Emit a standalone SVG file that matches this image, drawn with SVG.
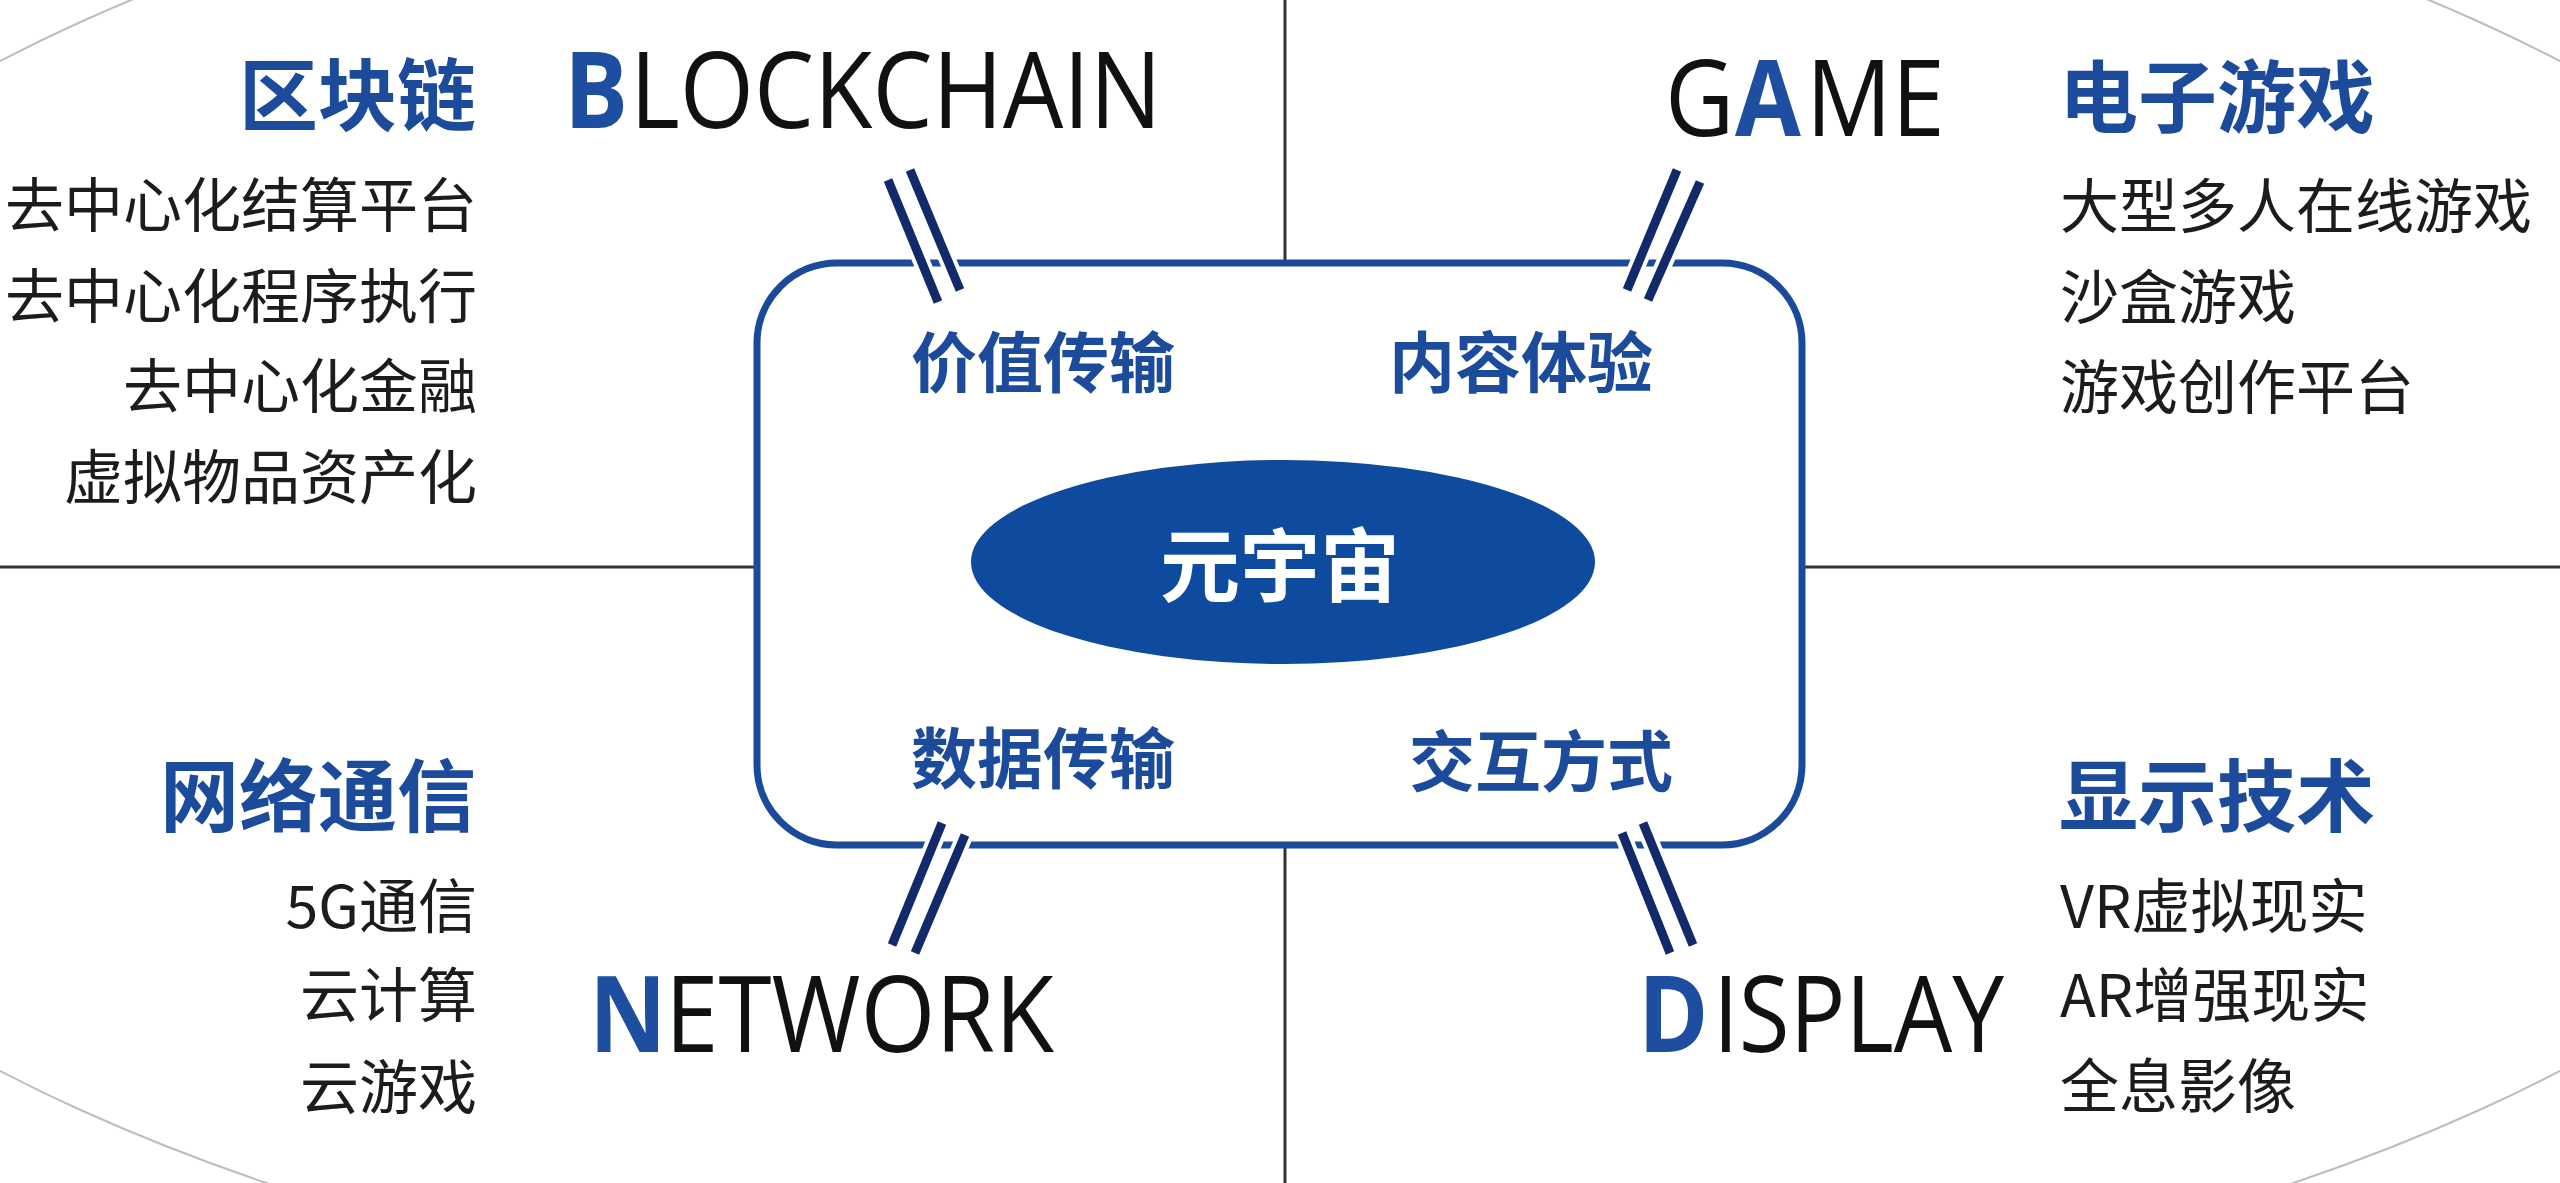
<svg xmlns="http://www.w3.org/2000/svg" width="2560" height="1183" viewBox="0 0 2560 1183">
<style>
.cn{font-family:"Noto Sans CJK SC","Noto Sans",sans-serif;}
.en{font-family:"Open Sans","Noto Sans",sans-serif;font-size:106px;fill:#111;}
.b1{font-family:"Open Sans","Noto Sans",sans-serif;font-size:106px;fill:#1d4ea0;font-weight:bold;}
.head{font-size:79px;font-weight:bold;fill:#1c4b9c;}
.item{font-size:59px;fill:#1c1c1c;}
.inner{font-size:66px;font-weight:bold;fill:#1c4b9c;text-anchor:middle;}
.quad{stroke:#333;stroke-width:3;fill:none;}
.slash{stroke:#12296a;stroke-width:9;stroke-linecap:butt;}
.slashbg{stroke:#fff;stroke-width:17;stroke-linecap:butt;}
</style>
<rect width="2560" height="1183" fill="#fff"/>
<g id="outer-ring">
<ellipse cx="1280" cy="566" rx="1697" ry="769" fill="none" stroke="#bdbdbd" stroke-width="2"/>
</g>
<g id="connectors">
<line class="quad" x1="0" y1="567" x2="757" y2="567"/>
<line class="quad" x1="1802" y1="567" x2="2560" y2="567"/>
<line class="quad" x1="1285" y1="0" x2="1285" y2="263"/>
<line class="quad" x1="1285" y1="845" x2="1285" y2="1183"/>
</g>
<g id="hub">
<rect x="757" y="263" width="1045" height="582" rx="80" ry="80" fill="#fffffd" stroke="#1a4a9a" stroke-width="7"/>
<text class="cn inner" x="1043" y="387">价值传输</text>
<text class="cn inner" x="1521" y="387">内容体验</text>
<text class="cn inner" x="1043" y="783">数据传输</text>
<text class="cn inner" x="1541" y="786">交互方式</text>
</g>
<g id="slashes">
<line class="slashbg" x1="888" y1="180" x2="938" y2="302"/>
<line class="slashbg" x1="910" y1="170" x2="960" y2="290"/>
<line class="slash" x1="888" y1="180" x2="938" y2="302"/>
<line class="slash" x1="910" y1="170" x2="960" y2="290"/>
<line class="slashbg" x1="1677" y1="170" x2="1627" y2="290"/>
<line class="slashbg" x1="1700" y1="182" x2="1648" y2="300"/>
<line class="slash" x1="1677" y1="170" x2="1627" y2="290"/>
<line class="slash" x1="1700" y1="182" x2="1648" y2="300"/>
<line class="slashbg" x1="942" y1="823" x2="892" y2="945"/>
<line class="slashbg" x1="965" y1="835" x2="915" y2="953"/>
<line class="slash" x1="942" y1="823" x2="892" y2="945"/>
<line class="slash" x1="965" y1="835" x2="915" y2="953"/>
<line class="slashbg" x1="1622" y1="833" x2="1670" y2="953"/>
<line class="slashbg" x1="1643" y1="823" x2="1693" y2="945"/>
<line class="slash" x1="1622" y1="833" x2="1670" y2="953"/>
<line class="slash" x1="1643" y1="823" x2="1693" y2="945"/>
</g>
<g id="center">
<ellipse cx="1283" cy="562" rx="312" ry="102" fill="#0e4a9e"/>
<text class="cn" x="1280" y="595" font-size="80" font-weight="bold" fill="#fff" text-anchor="middle">元宇宙</text>
</g>
<g id="blockchain">
<text class="b1" transform="translate(564,128) scale(0.9,1)">B</text>
<text class="en" transform="translate(630,128) scale(0.9,1)">LOCKCHAIN</text>
<text class="cn head" x="476" y="125" text-anchor="end">区块链</text>
<text class="cn item" x="477" y="227" text-anchor="end">去中心化结算平台</text>
<text class="cn item" x="477" y="318" text-anchor="end">去中心化程序执行</text>
<text class="cn item" x="477" y="408" text-anchor="end">去中心化金融</text>
<text class="cn item" x="477" y="499" text-anchor="end">虚拟物品资产化</text>
</g>
<g id="game">
<text class="en" transform="translate(1665,136) scale(0.9,1)">G</text>
<text class="b1" transform="translate(1735,136) scale(0.9,1)">A</text>
<text class="en" transform="translate(1806,136) scale(0.9,1)">ME</text>
<text class="cn head" x="2059" y="127">电子游戏</text>
<text class="cn item" x="2060" y="228">大型多人在线游戏</text>
<text class="cn item" x="2060" y="319">沙盒游戏</text>
<text class="cn item" x="2060" y="409">游戏创作平台</text>
</g>
<g id="network">
<text class="b1" transform="translate(589,1052) scale(0.9,1)">N</text>
<text class="en" transform="translate(665,1052) scale(0.909,1)">ETWORK</text>
<text class="cn head" x="476" y="826" text-anchor="end">网络通信</text>
<text class="cn item" x="477" y="928" text-anchor="end">5G通信</text>
<text class="cn item" x="477" y="1017" text-anchor="end">云计算</text>
<text class="cn item" x="477" y="1109" text-anchor="end">云游戏</text>
</g>
<g id="display">
<text class="b1" transform="translate(1638,1052) scale(0.9,1)">D</text>
<text class="en" transform="translate(1713,1052) scale(0.874,1)">ISPLAY</text>
<text class="cn head" x="2059" y="826">显示技术</text>
<text class="cn item" x="2060" y="928">VR虚拟现实</text>
<text class="cn item" x="2060" y="1017">AR增强现实</text>
<text class="cn item" x="2060" y="1108">全息影像</text>
</g>
</svg>
